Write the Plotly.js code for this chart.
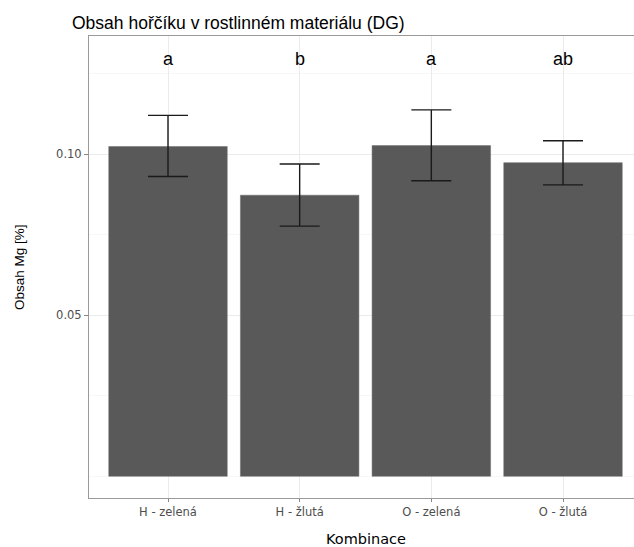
<!DOCTYPE html>
<html>
<head>
<meta charset="utf-8">
<script src="https://cdn.plot.ly/plotly-3.0.1.min.js"></script>
<style>html,body{margin:0;padding:0;background:#fff;overflow:hidden;width:634px;height:547px;}#wrap{width:634px;height:547px;overflow:hidden;}#chart{width:642px;height:547px;}</style>
</head>
<body>
<div id="wrap"><div id="chart"></div></div>
<script>
const categories = ['H - zelená', 'H - žlutá', 'O - zelená', 'O - žlutá'];
const means = [0.1024, 0.0873, 0.1027, 0.0974];
const errTop = [0.1121, 0.0970, 0.1138, 0.1042];
const errBottom = [0.0931, 0.0777, 0.0918, 0.0905];
const groupLetters = ['a', 'b', 'a', 'ab'];
const yTickVals = [0.05, 0.10];
const yTickText = ['0.05', '0.10'];

const plus = errTop.map((v, i) => v - means[i]);
const minus = means.map((m, i) => m - errBottom[i]);

const trace = {
  type: 'bar',
  x: categories,
  y: means,
  width: 0.9,
  marker: {color: '#595959', line: {color: '#6a6a6a', width: 0.5}},
  error_y: {
    type: 'data', symmetric: false,
    array: plus, arrayminus: minus,
    color: '#1a1a1a', thickness: 1.4, width: 20
  },
  hoverinfo: 'none'
};

const annotations = categories.map((c, i) => ({
  x: c, y: 0.1296, xref: 'x', yref: 'y',
  text: groupLetters[i], showarrow: false,
  xanchor: 'center', yanchor: 'middle',
  font: {family: 'Liberation Sans, Arial, sans-serif', size: 18, color: '#000'}
}));
annotations.push({
  xref: 'paper', yref: 'paper', x: 0.5, y: 0,
  yshift: -41, text: 'Kombinace', showarrow: false,
  xanchor: 'center', yanchor: 'middle', borderpad: 0,
  font: {family: 'DejaVu Sans, sans-serif', size: 14.5, color: '#000'}
});
annotations.push({
  xref: 'paper', yref: 'paper', x: (19 - 89) / 553, y: 0.5,
  text: 'Obsah Mg [%]', textangle: -90, showarrow: false,
  xanchor: 'center', yanchor: 'middle',
  font: {family: 'Liberation Sans, Arial, sans-serif', size: 13.5, color: '#000'}
});

const layout = {
  width: 642, height: 547,
  margin: {l: 89, r: 0, t: 36, b: 49, pad: 0},
  paper_bgcolor: '#fff', plot_bgcolor: '#fff',
  showlegend: false,
  title: {
    text: 'Obsah hořčíku v rostlinném materiálu (DG)',
    xref: 'container', yref: 'container',
    x: 72 / 642, xanchor: 'left', y: 1 - 23 / 547, yanchor: 'middle',
    font: {family: 'Liberation Sans, Arial, sans-serif', size: 17.5, color: '#000'}
  },
  xaxis: {
    type: 'category',
    range: [-0.6, 3.6],
    showline: true, mirror: true, linecolor: '#9a9a9a', linewidth: 1,
    showgrid: true, gridcolor: '#ebebeb', gridwidth: 1,
    ticks: 'outside', ticklen: 3, tickcolor: '#888', tickwidth: 1,
    tickfont: {family: 'DejaVu Sans, sans-serif', size: 11.5, color: '#4d4d4d'},
    zeroline: false, fixedrange: true
  },
  yaxis: {
    range: [-0.00674, 0.13674],
    tickvals: yTickVals, ticktext: yTickText,
    showline: true, mirror: false, linecolor: '#9a9a9a', linewidth: 1,
    showgrid: true, gridcolor: '#ebebeb', gridwidth: 1,
    minor: {tick0: 0, dtick: 0.025, showgrid: true, gridcolor: '#f5f5f5', gridwidth: 0.8, ticks: ''},
    ticks: 'outside', ticklen: 4, tickcolor: '#888', tickwidth: 1,
    tickfont: {family: 'DejaVu Sans, sans-serif', size: 11.5, color: '#4d4d4d'},
    zeroline: false, fixedrange: true
  },
  annotations: annotations
};

Plotly.newPlot('chart', [trace], layout, {staticPlot: true, displayModeBar: false});
</script>
</body>
</html>
